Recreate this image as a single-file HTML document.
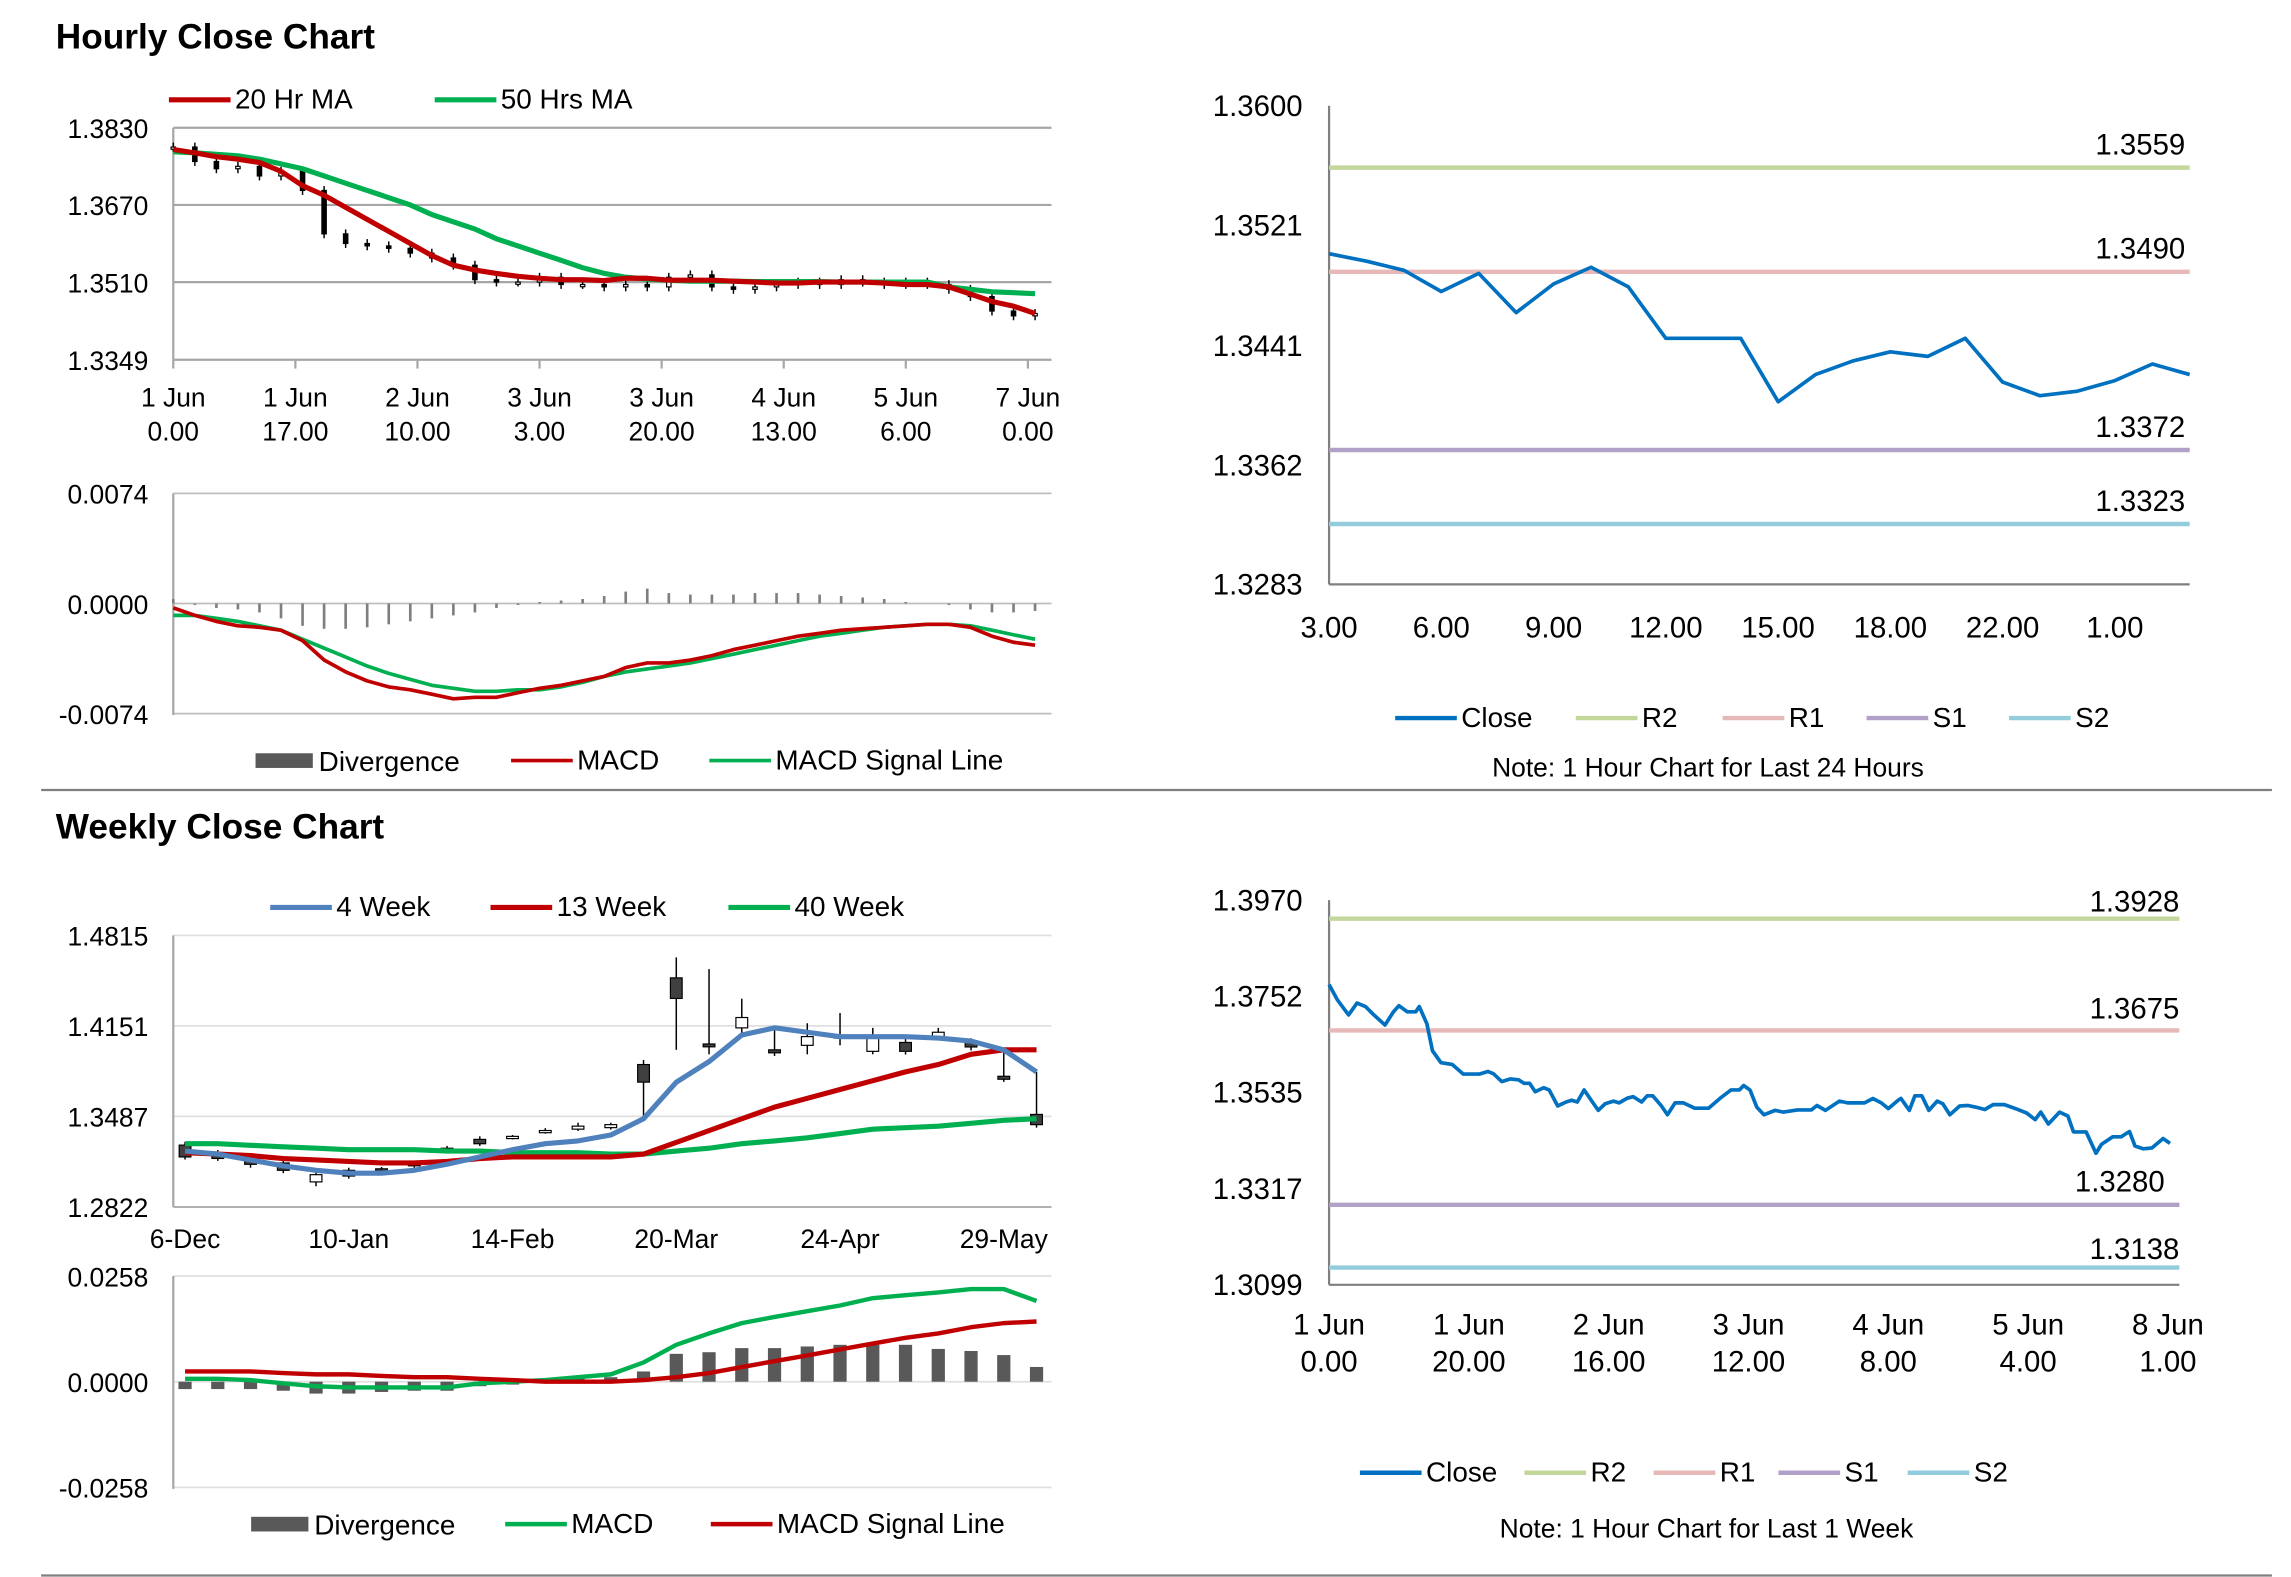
<!DOCTYPE html>
<html><head><meta charset="utf-8">
<style>
html,body{margin:0;padding:0;background:#fff;}
svg{display:block;}
text{font-family:"Liberation Sans Narrow","Liberation Sans",sans-serif;fill:#000;}
.t{font-family:"Liberation Sans",sans-serif;font-weight:bold;}
</style></head>
<body>
<svg id="root" xmlns="http://www.w3.org/2000/svg" width="2291" height="1577" viewBox="0 0 1560 1074" preserveAspectRatio="none">
<text class="t" x="38" y="33" font-size="24">Hourly Close Chart</text>
<text class="t" x="38" y="571" font-size="24">Weekly Close Chart</text>
<line x1="28" y1="538" x2="1547" y2="538" stroke="#7f7f7f" stroke-width="1.5"/>
<line x1="28" y1="1073" x2="1547" y2="1073" stroke="#7f7f7f" stroke-width="1.5"/>
</svg>
<script>
// ---------- DATA ----------
// Hourly chart (3-hour steps from 1 Jun 0.00)
const hHours = [0,3,6,9,12,15,18,21,24,27,30,33,36,39,42,45,48,51,54,57,60,63,66,69,72,75,78,81,84,87,90,93,96,99,102,105,108,111,114,117,120];
const hClose = [1.3790,1.3760,1.3745,1.3750,1.3730,1.3740,1.3700,1.3610,1.3590,1.3585,1.3580,1.3570,1.3560,1.3545,1.3515,1.3510,1.3510,1.3520,1.3505,1.3505,1.3500,1.3505,1.3500,1.3520,1.3525,1.3500,1.3495,1.3500,1.3505,1.3510,1.3505,1.3515,1.3510,1.3505,1.3510,1.3505,1.3495,1.3480,1.3450,1.3440,1.3445];
const hMA20 = [1.3785,1.3778,1.3770,1.3765,1.3758,1.3740,1.3710,1.3690,1.3665,1.3640,1.3615,1.3590,1.3565,1.3545,1.3535,1.3528,1.3522,1.3518,1.3515,1.3515,1.3513,1.3518,1.3518,1.3514,1.3514,1.3514,1.3512,1.3510,1.3508,1.3508,1.3510,1.3510,1.3510,1.3508,1.3505,1.3505,1.3500,1.3485,1.3470,1.3460,1.3445];
const hMA50 = [1.3780,1.3778,1.3775,1.3772,1.3765,1.3755,1.3745,1.3730,1.3715,1.3700,1.3685,1.3670,1.3650,1.3635,1.3620,1.3600,1.3585,1.3570,1.3555,1.3540,1.3528,1.3520,1.3516,1.3514,1.3512,1.3512,1.3512,1.3511,1.3511,1.3511,1.3511,1.3510,1.3510,1.3510,1.3510,1.3510,1.3500,1.3495,1.3490,1.3488,1.3486];
const hMACD = [-0.0003,-0.0008,-0.0012,-0.0015,-0.0016,-0.0018,-0.0025,-0.0038,-0.0046,-0.0052,-0.0056,-0.0058,-0.0061,-0.0064,-0.0063,-0.0063,-0.0060,-0.0057,-0.0055,-0.0052,-0.0049,-0.0043,-0.0040,-0.0040,-0.0038,-0.0035,-0.0031,-0.0028,-0.0025,-0.0022,-0.0020,-0.0018,-0.0017,-0.0016,-0.0015,-0.0014,-0.0014,-0.0016,-0.0022,-0.0026,-0.0028];
const hSignal = [-0.0008,-0.0008,-0.0010,-0.0012,-0.0015,-0.0018,-0.0024,-0.0030,-0.0036,-0.0042,-0.0047,-0.0051,-0.0055,-0.0057,-0.0059,-0.0059,-0.0058,-0.0058,-0.0056,-0.0053,-0.0049,-0.0046,-0.0044,-0.0042,-0.0040,-0.0037,-0.0034,-0.0031,-0.0028,-0.0025,-0.0022,-0.0020,-0.0018,-0.0016,-0.0015,-0.0014,-0.0014,-0.0015,-0.0018,-0.0021,-0.0024];
const hDiv = [0.0003,-0.0001,-0.0003,-0.0004,-0.0006,-0.0010,-0.0015,-0.0017,-0.0017,-0.0016,-0.0014,-0.0012,-0.0010,-0.0008,-0.0006,-0.0003,-0.0001,0.0001,0.0002,0.0003,0.0005,0.0008,0.0010,0.0007,0.0006,0.0006,0.0006,0.0007,0.0007,0.0007,0.0006,0.0005,0.0004,0.0003,0.0001,0.0000,-0.0001,-0.0004,-0.0006,-0.0006,-0.0005];
const hPriceTicks = [1.3830,1.3670,1.3510,1.3349];
const hPriceTickLabels = ["1.3830","1.3670","1.3510","1.3349"];
const hMacdTicks = [0.0074,0,-0.0074];
const hMacdTickLabels = ["0.0074","0.0000","-0.0074"];
const hXTickHours = [0,17,34,51,68,85,102,119];
const hXTickLabels1 = ["1 Jun","1 Jun","2 Jun","3 Jun","3 Jun","4 Jun","5 Jun","7 Jun"];
const hXTickLabels2 = ["0.00","17.00","10.00","3.00","20.00","13.00","6.00","0.00"];

// Last 24 hours chart
const dCats = ["3.00","4.00","5.00","6.00","7.00","8.00","9.00","10.00","11.00","12.00","13.00","14.00","15.00","16.00","17.00","18.00","20.00","21.00","22.00","23.00","0.00","1.00","2.00","3.00"];
const dClose = [1.3502,1.3497,1.3491,1.3477,1.3489,1.3463,1.3482,1.3493,1.3480,1.3446,1.3446,1.3446,1.3404,1.3422,1.3431,1.3437,1.3434,1.3446,1.3417,1.3408,1.3411,1.3418,1.3429,1.3422];
const dLevels = [1.3559,1.3490,1.3372,1.3323];
const dLevelLabels = ["1.3559","1.3490","1.3372","1.3323"];
const dTicks = [1.3600,1.3521,1.3441,1.3362,1.3283];
const dTickLabels = ["1.3600","1.3521","1.3441","1.3362","1.3283"];

// Weekly chart
const wCats = ["6-Dec","13-Dec","20-Dec","27-Dec","3-Jan","10-Jan","17-Jan","24-Jan","31-Jan","7-Feb","14-Feb","21-Feb","28-Feb","6-Mar","13-Mar","20-Mar","27-Mar","3-Apr","10-Apr","17-Apr","24-Apr","1-May","8-May","15-May","22-May","29-May","5-Jun"];
const wOpen  = [1.3276,1.3221,1.3189,1.3145,1.3006,1.3091,1.3102,1.3145,1.3253,1.3318,1.3329,1.3383,1.3393,1.3404,1.3867,1.4503,1.4018,1.4136,1.3975,1.4008,1.4061,1.3964,1.4029,1.4072,1.4029,1.3781,1.3501];
const wClose = [1.3189,1.3178,1.3135,1.3091,1.3059,1.3049,1.3091,1.3124,1.3232,1.3286,1.3340,1.3383,1.3415,1.3426,1.3738,1.4352,1.3997,1.4212,1.3953,1.4072,1.4083,1.4083,1.3964,1.4104,1.3996,1.3759,1.3426];
const wHigh  = [1.3300,1.3240,1.3200,1.3160,1.3091,1.3110,1.3115,1.3160,1.3270,1.3340,1.3350,1.3400,1.3440,1.3440,1.3900,1.4653,1.4567,1.4350,1.4136,1.4170,1.4245,1.4136,1.4060,1.4136,1.4060,1.3975,1.3813];
const wLow   = [1.3170,1.3160,1.3110,1.3070,1.2974,1.3030,1.3080,1.3110,1.3215,1.3270,1.3318,1.3360,1.3380,1.3390,1.3480,1.3975,1.3942,1.4083,1.3930,1.3942,1.4008,1.3942,1.3940,1.4060,1.3970,1.3740,1.3404];
const w4  = [1.3232,1.3210,1.3167,1.3124,1.3091,1.3070,1.3070,1.3091,1.3135,1.3189,1.3242,1.3286,1.3307,1.3350,1.3469,1.3738,1.3889,1.4083,1.4136,1.4104,1.4072,1.4072,1.4072,1.4061,1.4039,1.3975,1.3813];
const w13 = [1.3221,1.3210,1.3199,1.3178,1.3167,1.3156,1.3145,1.3145,1.3156,1.3178,1.3189,1.3189,1.3189,1.3189,1.3210,1.3296,1.3382,1.3469,1.3555,1.3619,1.3684,1.3748,1.3813,1.3867,1.3942,1.3975,1.3975];
const w40 = [1.3286,1.3286,1.3275,1.3264,1.3253,1.3242,1.3242,1.3242,1.3232,1.3232,1.3221,1.3221,1.3221,1.3210,1.3210,1.3232,1.3253,1.3286,1.3307,1.3329,1.3361,1.3393,1.3404,1.3415,1.3436,1.3458,1.3469];
const wMACD = [0.0007,0.0007,0.0004,-0.0004,-0.0011,-0.0014,-0.0014,-0.0014,-0.0014,-0.0004,0.0000,0.0004,0.0011,0.0018,0.0047,0.0090,0.0118,0.0143,0.0158,0.0172,0.0186,0.0204,0.0211,0.0218,0.0226,0.0226,0.0197];
const wSignal = [0.0025,0.0025,0.0025,0.0021,0.0018,0.0018,0.0014,0.0011,0.0011,0.0007,0.0004,0.0000,0.0000,0.0000,0.0004,0.0011,0.0021,0.0036,0.0050,0.0064,0.0079,0.0093,0.0107,0.0118,0.0133,0.0143,0.0147];
const wDiv = [-0.0018,-0.0018,-0.0018,-0.0022,-0.0029,-0.0029,-0.0025,-0.0022,-0.0022,-0.0011,-0.0007,0.0004,0.0007,0.0011,0.0025,0.0068,0.0072,0.0082,0.0082,0.0086,0.0090,0.0090,0.0090,0.0080,0.0075,0.0065,0.0036];
const wPriceTicks = [1.4815,1.4151,1.3487,1.2822];
const wPriceTickLabels = ["1.4815","1.4151","1.3487","1.2822"];
const wMacdTicks = [0.0258,0,-0.0258];
const wMacdTickLabels = ["0.0258","0.0000","-0.0258"];
const wXLabelIdx = [0,5,10,15,20,25];

// Last 1 week chart
const kHours = [0,1.2,2.8,4.0,5.2,6.4,8.0,9.2,10.0,11.2,12.4,12.9,14.0,14.8,16.0,17.6,19.2,21.5,22.7,23.5,24.7,25.9,27.1,27.9,28.7,29.5,30.7,31.5,32.7,33.9,34.7,35.5,36.5,37.5,38.5,39.5,40.7,41.5,42.7,43.5,44.7,45.5,46.3,47.5,48.4,49.5,50.7,52.3,54.3,55.9,57.5,58.7,59.3,60.2,61.2,62.2,63.8,65.0,67.0,69.0,69.8,71.0,73.0,74.2,76.6,77.8,79.0,80.0,81.4,81.8,83.0,83.8,84.8,85.8,87.0,87.8,88.8,90.2,91.4,92.6,93.8,95.0,96.6,98.2,99.8,101.0,101.8,102.9,104.5,105.7,106.5,108.3,109.7,110.5,112.1,113.3,114.5,115.3,116.5,117.7,119.3,120.3];
const kClose = [1.3779,1.3744,1.3710,1.3737,1.3729,1.3710,1.3687,1.3717,1.3731,1.3717,1.3717,1.3729,1.3690,1.3629,1.3602,1.3598,1.3576,1.3576,1.3582,1.3577,1.3559,1.3565,1.3563,1.3555,1.3555,1.3536,1.3545,1.3540,1.3504,1.3513,1.3517,1.3513,1.3540,1.3517,1.3494,1.3509,1.3515,1.3511,1.3522,1.3525,1.3513,1.3527,1.3527,1.3505,1.3484,1.3511,1.3511,1.3499,1.3499,1.3521,1.3540,1.3540,1.3550,1.3540,1.3501,1.3484,1.3494,1.3490,1.3495,1.3495,1.3505,1.3494,1.3515,1.3511,1.3511,1.3521,1.3511,1.3498,1.3517,1.3521,1.3494,1.3527,1.3527,1.3494,1.3515,1.3509,1.3484,1.3504,1.3505,1.3501,1.3496,1.3507,1.3507,1.3498,1.3488,1.3473,1.3490,1.3463,1.3490,1.3481,1.3445,1.3445,1.3397,1.3417,1.3434,1.3434,1.3446,1.3413,1.3407,1.3409,1.3430,1.3419];
const kLevels = [1.3928,1.3675,1.3280,1.3138];
const kLevelLabels = ["1.3928","1.3675","1.3280","1.3138"];
const kTicks = [1.3970,1.3752,1.3535,1.3317,1.3099];
const kTickLabels = ["1.3970","1.3752","1.3535","1.3317","1.3099"];
const kXTickHours = [0,20,40,60,80,100,120];
const kXLabels1 = ["1 Jun","1 Jun","2 Jun","3 Jun","4 Jun","5 Jun","8 Jun"];
const kXLabels2 = ["0.00","20.00","16.00","12.00","8.00","4.00","1.00"];

// ---------- DRAWING ----------
const NS = "http://www.w3.org/2000/svg";
const root = document.getElementById('root');
function mk(tag, attrs, name, parent){
  const el = document.createElementNS(NS, tag);
  for (const k in attrs) el.setAttribute(k, attrs[k]);
  
  
  (parent||root).appendChild(el);
  return el;
}
function txt(x,y,s,size,anchor,name,parent){
  const t = mk('text',{x:x,y:y,'font-size':size,'text-anchor':anchor||'start'},name,parent);
  t.textContent = s; return t;
}
function poly(pts,color,w,name,parent){
  return mk('polyline',{points:pts.map(p=>p[0].toFixed(1)+','+p[1].toFixed(1)).join(' '),fill:'none',stroke:color,'stroke-width':w,'stroke-linejoin':'round'},name,parent);
}
function legendLine(x,y,color,label,name,w){
  const g = mk('g',{},name);
  mk('line',{x1:x,y1:y,x2:x+42,y2:y,stroke:color,'stroke-width':w||3.5},name+'-swatch',g);
  txt(x+45,y+6,label,19,'start',name+'-label',g);
}
function legendBox(x,y,label,name){
  const g = mk('g',{},name);
  mk('rect',{x:x,y:y-5,width:39,height:10,fill:'#595959'},name+'-swatch',g);
  txt(x+43,y+7,label,19,'start',name+'-label',g);
}
const RED='#c00000', GREEN='#00b050', BLUE='#4f81bd', CBLUE='#0070c0';

// ===== Hourly price chart =====
const hx = h => 118 + h*4.89;
const hy = v => 87 + (1.3830 - v)/0.0481*158;
(function(){
  const g = mk('g',{},'hourly-price-chart');
  hPriceTicks.forEach((v,i)=>{
    mk('line',{x1:118,y1:hy(v),x2:716,y2:hy(v),stroke:'#a6a6a6','stroke-width':1.5},'y-gridline',g);
    txt(101,hy(v)+7,hPriceTickLabels[i],18,'end','y-tick-label',g);
  });
  mk('line',{x1:118,y1:87,x2:118,y2:245,stroke:'#a6a6a6','stroke-width':1.5},'y-axis',g);
  hXTickHours.forEach((h,i)=>{
    mk('line',{x1:hx(h),y1:245,x2:hx(h),y2:251,stroke:'#a6a6a6','stroke-width':1.5},'x-tick',g);
    txt(hx(h),277,hXTickLabels1[i],18,'middle','x-tick-label',g);
    txt(hx(h),300,hXTickLabels2[i],18,'middle','x-tick-label',g);
  });
  hClose.forEach((c,i)=>{
    const o = i>0 ? hClose[i-1] : c;
    const top = Math.min(hy(o),hy(c)), bot = Math.max(hy(o),hy(c));
    mk('line',{x1:hx(hHours[i]),y1:top-3,x2:hx(hHours[i]),y2:bot+3,stroke:'#000','stroke-width':1},'candle-wick',g);
    mk('rect',{x:hx(hHours[i])-1.5,y:top,width:3,height:Math.max(bot-top,1.5),fill:c>=o?'#fff':'#000',stroke:'#000','stroke-width':0.8},'candle',g);
  });
  poly(hHours.map((h,i)=>[hx(h),hy(hMA50[i])]),GREEN,3.5,'ma50-line',g);
  poly(hHours.map((h,i)=>[hx(h),hy(hMA20[i])]),RED,3.5,'ma20-line',g);
  legendLine(115,68,RED,'20 Hr MA','legend-20hr-ma');
  legendLine(296,68,GREEN,'50 Hrs MA','legend-50hrs-ma');
})();

// ===== Hourly MACD =====
const my = v => 411 - v/0.0074*75;
(function(){
  const g = mk('g',{},'hourly-macd-chart');
  hMacdTicks.forEach((v,i)=>{
    mk('line',{x1:118,y1:my(v),x2:716,y2:my(v),stroke:'#bfbfbf','stroke-width':1.2},'y-gridline',g);
    txt(101,my(v)+7,hMacdTickLabels[i],18,'end','y-tick-label',g);
  });
  mk('line',{x1:118,y1:336,x2:118,y2:487,stroke:'#a6a6a6','stroke-width':1.5},'y-axis',g);
  hDiv.forEach((v,i)=>{
    mk('rect',{x:hx(hHours[i])-0.9,y:Math.min(my(v),my(0)),width:1.8,height:Math.abs(my(v)-my(0)),fill:'#7f7f7f'},'divergence-bar',g);
  });
  poly(hHours.map((h,i)=>[hx(h),my(hSignal[i])]),GREEN,2.5,'macd-signal-line',g);
  poly(hHours.map((h,i)=>[hx(h),my(hMACD[i])]),RED,2.5,'macd-line',g);
  legendBox(174,518,'Divergence','legend-divergence');
  legendLine(348,518,RED,'MACD','legend-macd',2.5);
  legendLine(483,518,GREEN,'MACD Signal Line','legend-macd-signal',2.5);
})();

// ===== Last 24 hours chart =====
const dx = i => 905 + i*25.48;
const dy = v => 72 + (1.3600 - v)/0.0317*326;
const levelColors = ['#c4d79b','#e6b9b8','#b1a0c7','#93cddd'];
const levelNames = ['R2','R1','S1','S2'];
(function(){
  const g = mk('g',{},'daily-close-chart');
  dTicks.forEach((v,i)=>{ txt(887,dy(v)+7,dTickLabels[i],20,'end','y-tick-label',g); });
  mk('line',{x1:905,y1:72,x2:905,y2:398,stroke:'#7f7f7f','stroke-width':1.5},'y-axis',g);
  mk('line',{x1:905,y1:398,x2:1491,y2:398,stroke:'#7f7f7f','stroke-width':1.5},'x-axis',g);
  dCats.forEach((c,i)=>{
    if(i%3===0) txt(dx(i),434,c,20,'middle','x-tick-label',g);
  });
  dLevels.forEach((v,i)=>{
    mk('line',{x1:905,y1:dy(v),x2:1491,y2:dy(v),stroke:levelColors[i],'stroke-width':3},'level-'+levelNames[i].toLowerCase(),g);
    txt(1488,dy(v)-9,dLevelLabels[i],20,'end','level-label',g);
  });
  poly(dClose.map((v,i)=>[dx(i),dy(v)]),CBLUE,2.5,'close-line',g);
  legendLine(950,489,CBLUE,'Close','legend-close',3);
  legendLine(1073,489,levelColors[0],'R2','legend-r2',3);
  legendLine(1173,489,levelColors[1],'R1','legend-r1',3);
  legendLine(1271,489,levelColors[2],'S1','legend-s1',3);
  legendLine(1368,489,levelColors[3],'S2','legend-s2',3);
  txt(1163,529,'Note: 1 Hour Chart for Last 24 Hours',18,'middle','chart-note',g);
})();

// ===== Weekly price chart =====
const wx = i => 126 + i*22.3;
const wy = v => 637 + (1.4815 - v)/0.1993*185;
(function(){
  const g = mk('g',{},'weekly-price-chart');
  wPriceTicks.forEach((v,i)=>{
    mk('line',{x1:118,y1:wy(v),x2:716,y2:wy(v),stroke:i===3?'#a6a6a6':'#e0e0e0','stroke-width':1.2},'y-gridline',g);
    txt(101,wy(v)+7,wPriceTickLabels[i],18,'end','y-tick-label',g);
  });
  mk('line',{x1:118,y1:637,x2:118,y2:822,stroke:'#a6a6a6','stroke-width':1.5},'y-axis',g);
  wXLabelIdx.forEach(i=>{ txt(wx(i),850,wCats[i],18,'middle','x-tick-label',g); });
  wOpen.forEach((o,i)=>{
    const c = wClose[i];
    mk('line',{x1:wx(i),y1:wy(wHigh[i]),x2:wx(i),y2:wy(wLow[i]),stroke:'#000','stroke-width':1},'weekly-candle-wick',g);
    const top=Math.min(wy(o),wy(c)), bot=Math.max(wy(o),wy(c));
    mk('rect',{x:wx(i)-4,y:top,width:8,height:Math.max(bot-top,1.5),fill:c>=o?'#fff':'#404040',stroke:'#000','stroke-width':0.8},'weekly-candle',g);
  });
  poly(wCats.map((c,i)=>[wx(i),wy(w40[i])]),GREEN,3.5,'ma40-line',g);
  poly(wCats.map((c,i)=>[wx(i),wy(w13[i])]),RED,3.5,'ma13-line',g);
  poly(wCats.map((c,i)=>[wx(i),wy(w4[i])]),BLUE,3.5,'ma4-line',g);
  legendLine(184,618,BLUE,'4 Week','legend-4-week');
  legendLine(334,618,RED,'13 Week','legend-13-week');
  legendLine(496,618,GREEN,'40 Week','legend-40-week');
})();

// ===== Weekly MACD =====
const wmy = v => 941 - v/0.0258*72;
(function(){
  const g = mk('g',{},'weekly-macd-chart');
  wMacdTicks.forEach((v,i)=>{
    mk('line',{x1:118,y1:wmy(v),x2:716,y2:wmy(v),stroke:'#e0e0e0','stroke-width':1.2},'y-gridline',g);
    txt(101,wmy(v)+7,wMacdTickLabels[i],18,'end','y-tick-label',g);
  });
  mk('line',{x1:118,y1:869,x2:118,y2:1014,stroke:'#a6a6a6','stroke-width':1.5},'y-axis',g);
  wDiv.forEach((v,i)=>{
    mk('rect',{x:wx(i)-4.5,y:Math.min(wmy(v),wmy(0)),width:9,height:Math.abs(wmy(v)-wmy(0)),fill:'#595959'},'divergence-bar',g);
  });
  poly(wCats.map((c,i)=>[wx(i),wmy(wMACD[i])]),GREEN,3,'weekly-macd-line',g);
  poly(wCats.map((c,i)=>[wx(i),wmy(wSignal[i])]),RED,3,'weekly-signal-line',g);
  legendBox(171,1038,'Divergence','legend-weekly-divergence');
  legendLine(344,1038,GREEN,'MACD','legend-weekly-macd',3);
  legendLine(484,1038,RED,'MACD Signal Line','legend-weekly-signal',3);
})();

// ===== Last 1 week chart =====
const kx = h => 905 + h*4.76;
const ky = v => 613 + (1.3970 - v)/0.0871*262;
(function(){
  const g = mk('g',{},'week-close-chart');
  kTicks.forEach((v,i)=>{ txt(887,ky(v)+7,kTickLabels[i],20,'end','y-tick-label',g); });
  mk('line',{x1:905,y1:613,x2:905,y2:875,stroke:'#7f7f7f','stroke-width':1.5},'y-axis',g);
  mk('line',{x1:905,y1:875,x2:1484,y2:875,stroke:'#7f7f7f','stroke-width':1.5},'x-axis',g);
  kXTickHours.forEach((h,i)=>{
    txt(kx(h),909,kXLabels1[i],20,'middle','x-tick-label',g);
    txt(kx(h),934,kXLabels2[i],20,'middle','x-tick-label',g);
  });
  kLevels.forEach((v,i)=>{
    mk('line',{x1:905,y1:ky(v),x2:1484,y2:ky(v),stroke:levelColors[i],'stroke-width':3},'level-'+levelNames[i].toLowerCase(),g);
  });
  txt(1484,ky(kLevels[0])-5,kLevelLabels[0],20,'end','level-label',g);
  txt(1484,ky(kLevels[1])-8,kLevelLabels[1],20,'end','level-label',g);
  txt(1474,ky(kLevels[2])-9,kLevelLabels[2],20,'end','level-label',g);
  txt(1484,ky(kLevels[3])-6,kLevelLabels[3],20,'end','level-label',g);
  poly(kHours.map((h,i)=>[kx(h),ky(kClose[i])]),CBLUE,2.5,'week-close-line',g);
  legendLine(926,1003,CBLUE,'Close','legend-week-close',3);
  legendLine(1038,1003,levelColors[0],'R2','legend-week-r2',3);
  legendLine(1126,1003,levelColors[1],'R1','legend-week-r1',3);
  legendLine(1211,1003,levelColors[2],'S1','legend-week-s1',3);
  legendLine(1299,1003,levelColors[3],'S2','legend-week-s2',3);
  txt(1162,1047,'Note: 1 Hour Chart for  Last 1 Week',18,'middle','week-chart-note',g);
})();
</script>
</body></html>
